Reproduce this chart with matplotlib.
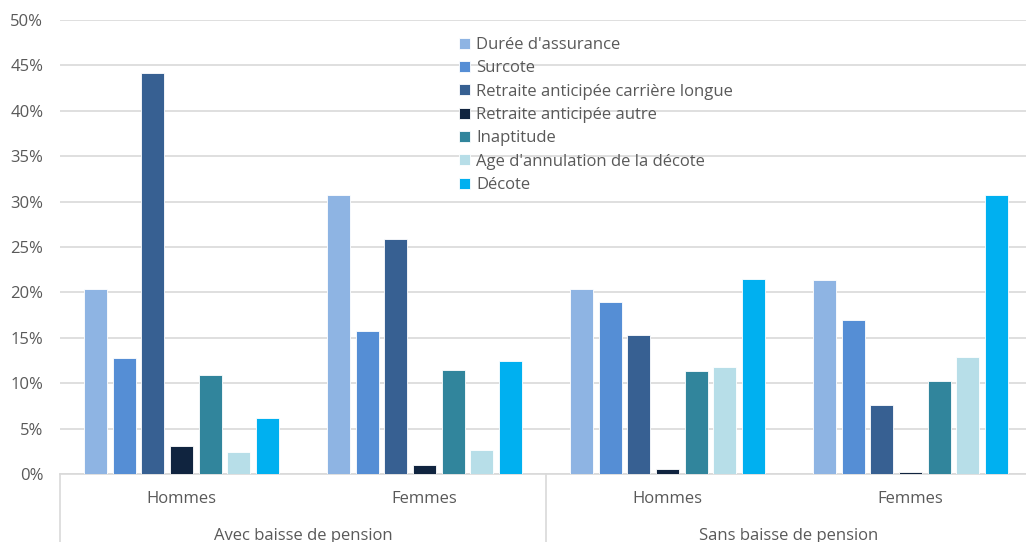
import numpy as np
import matplotlib.pyplot as plt
from matplotlib.transforms import blended_transform_factory

# data (percent)
series = ["Durée d'assurance", "Surcote", "Retraite anticipée carrière longue",
          "Retraite anticipée autre", "Inaptitude", "Age d'annulation de la décote",
          "Décote"]
colors = ["#8EB4E3", "#558ED5", "#376092", "#10243F", "#31859C", "#B7DEE8", "#00B0F0"]
sub_labels = ["Hommes", "Femmes", "Hommes", "Femmes"]
top_labels = ["Avec baisse de pension", "Sans baisse de pension"]

duree = [20.4, 30.7, 20.4, 21.4]
surcote = [12.8, 15.7, 18.9, 17.0]
carriere_longue = [44.2, 25.9, 15.3, 7.6]
anticipee_autre = [3.1, 1.0, 0.6, 0.2]
inaptitude = [10.9, 11.5, 11.3, 10.2]
age_annulation = [2.4, 2.6, 11.8, 12.9]
decote = [6.2, 12.4, 21.5, 30.7]
values = [duree, surcote, carriere_longue, anticipee_autre, inaptitude,
          age_annulation, decote]

plt.rcParams['font.family'] = ['Open Sans', 'DejaVu Sans']
grey = "#595959"
line_grey = "#D9D9D9"

fig = plt.figure(figsize=(10.26, 5.42), dpi=100)
W, H = 1026, 542
left, right, top, bottom = 60, 1032, 20, 474
ax = fig.add_axes([left / W, (H - bottom) / H, (right - left) / W, (bottom - top) / H])

x = np.arange(len(sub_labels))
pitch = 1 / 8.5
width = 0.095
for i, (name, vals, c) in enumerate(zip(series, values, colors)):
    ax.bar(x + (i - 3) * pitch, vals, width, color=c, label=name,
           edgecolor="white", linewidth=0.6, zorder=3)

ax.set_xlim(-0.5, 3.5)
ax.set_ylim(0, 50)
ax.set_yticks(np.arange(0, 51, 5))
ax.set_yticklabels([f"{v}%" for v in range(0, 51, 5)])
ax.tick_params(axis='y', length=0, labelsize=12, colors=grey, pad=12)
ax.tick_params(axis='x', length=0, labelbottom=False)
ax.grid(axis='y', color=line_grey, linewidth=1.2, zorder=0)
for s in ["top", "right", "left"]:
    ax.spines[s].set_visible(False)
ax.spines["bottom"].set_color(line_grey)
ax.spines["bottom"].set_linewidth(1.2)

# two-level category axis
trans = blended_transform_factory(ax.transData, ax.transAxes)
ah = bottom - top
for xi, lab in zip(x, sub_labels):
    ax.text(xi, -25 / ah, lab, transform=trans, ha='center', va='center',
            fontsize=12, color=grey)
for k, lab in enumerate(top_labels):
    ax.text(2 * k + 0.5, -62 / ah, lab, transform=trans, ha='center', va='center',
            fontsize=12, color=grey)
for xs in [-0.5, 1.5, 3.5]:
    ax.plot([xs, xs], [0, -0.2], transform=trans, color=line_grey, linewidth=1.2,
            clip_on=False)

leg = ax.legend(loc='upper left', bbox_to_anchor=(459 / W, 1 - 37 / H),
                bbox_transform=fig.transFigure, frameon=False, fontsize=12,
                handlelength=0.65, handleheight=0.65, handletextpad=0.4,
                labelspacing=0.44, borderaxespad=0, borderpad=0)
for t in leg.get_texts():
    t.set_color(grey)

fig.savefig("out.png", dpi=100)
